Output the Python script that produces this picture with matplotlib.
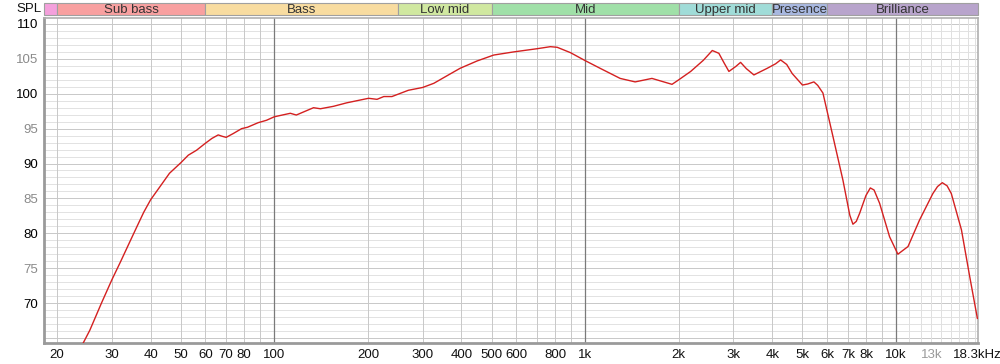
import matplotlib
matplotlib.use("Agg")
import matplotlib.pyplot as plt
from matplotlib.patches import Rectangle
import numpy as np

plt.rcParams['font.family'] = ['Liberation Sans', 'DejaVu Sans']

# ---- data ----
freq = [24.3, 25.5, 27.8, 30, 32, 33.9, 36.1, 38, 40, 42.9, 46, 50, 52.9, 56.2, 60, 63, 66, 68, 70,
        73.8, 78.5, 82, 88.7, 94.4, 100, 112.6, 117.7, 133.7, 140.7, 155, 171, 201,
        214, 225, 239, 270, 300, 326, 360, 396, 449, 508, 589, 701, 773, 813, 896, 1000,
        1117, 1296, 1448, 1640, 1903, 2000, 2185, 2400, 2564, 2692, 2800, 2900, 3050, 3162, 3300, 3490, 3852,
        4100, 4253, 4450, 4634, 5000, 5200, 5444, 5600, 5820, 6270, 6750, 7100, 7267, 7450, 7636, 8000, 8267, 8500, 8855, 9535, 10140,
        10930, 11905, 13140, 13600, 14090, 14600, 15060, 16235, 17260, 18270]
spl = [64.3, 66.1, 70.0, 73.3, 75.9, 78.3, 80.9, 83.0, 84.8, 86.7, 88.6, 90.1, 91.2, 91.9, 92.9, 93.6, 94.1, 93.9, 93.75,
       94.3, 95.0, 95.2, 95.85, 96.2, 96.7, 97.2, 96.95, 98.0, 97.85, 98.2, 98.7, 99.35,
       99.2, 99.6, 99.6, 100.5, 100.9, 101.5, 102.6, 103.65, 104.7, 105.55, 106.0, 106.46, 106.75, 106.66, 105.9, 104.75,
       103.65, 102.2, 101.7, 102.2, 101.35, 102.0, 103.2, 104.8, 106.2, 105.8, 104.4, 103.2, 103.9, 104.5, 103.6, 102.7, 103.65,
       104.3, 104.85, 104.2, 102.9, 101.25, 101.4, 101.7, 101.2, 100.1, 93.85, 87.6, 82.6, 81.3, 81.7, 82.85, 85.4, 86.5, 86.2, 84.3, 79.5, 77.0,
       78.1, 81.9, 85.7, 86.7, 87.25, 86.8, 85.7, 80.5, 73.8, 67.8]

band_names = ["", "Sub bass", "Bass", "Low mid", "Mid", "Upper mid", "Presence", "Brilliance"]
band_edges = [18.16, 20, 60, 250, 500, 2000, 4000, 6000, 18300]
band_colors = ["#f4a0dc", "#f8a0a0", "#f8dca0", "#d0e8a0", "#a0e0a8", "#a0dcd8", "#a8b8e0", "#b8a4cc"]

xtick_vals = [20, 30, 40, 50, 60, 70, 80, 100, 200, 300, 400, 500, 600, 800,
              1000, 2000, 3000, 4000, 5000, 6000, 7000, 8000, 10000, 13000, 18300]
xtick_labels = ["20", "30", "40", "50", "60", "70", "80", "100", "200", "300", "400", "500", "600", "800",
                "1k", "2k", "3k", "4k", "5k", "6k", "7k", "8k", "10k", "13k", "18.3kHz"]
ytick_vals = [70, 75, 80, 85, 90, 95, 100, 105, 110]

XMIN, XMAX = 18.16, 18300
YMIN, YMAX = 64.27, 110.86

fig = plt.figure(figsize=(10, 3.64), dpi=100)
W, H = 1000, 364
ax = fig.add_axes([44 / W, (H - 343) / H, (977.6 - 44) / W, (343 - 18) / H])
ax.set_xscale('log')
ax.set_xlim(XMIN, XMAX)
ax.set_ylim(YMIN, YMAX)

# grid lines
for d in range(65, 111):
    if d % 5 == 0:
        c = "#c8c8c8"
    else:
        c = "#e2e2e2"
    ax.axhline(d, color=c, lw=0.7, zorder=1)

vlines = []
for dec in [10, 100, 1000]:
    for m in range(1, 10):
        vlines.append(dec * m)
vlines += [10000 + 1000 * k for k in range(0, 9)]
for v in vlines:
    if v < XMIN or v > XMAX:
        continue
    if v in (100, 1000, 10000):
        c, lw = "#7a7a7a", 0.9
    elif v > 10000:
        c, lw = "#e0e0e0", 0.7
    else:
        c, lw = "#c8c8c8", 0.7
    ax.axvline(v, color=c, lw=lw, zorder=1)

ax.plot(freq, spl, color="#d42020", lw=1.0, zorder=3)

ax.set_xticks(xtick_vals)
ax.set_xticklabels(xtick_labels)
ax.xaxis.set_minor_locator(matplotlib.ticker.NullLocator())
ax.set_yticks(ytick_vals)
ax.set_yticklabels([str(v) for v in ytick_vals])
ax.tick_params(axis='both', length=0, labelsize=9.5)
ax.tick_params(axis='x', pad=4)
ax.tick_params(axis='y', pad=4)
for lbl, v in zip(ax.get_yticklabels(), ytick_vals):
    lbl.set_color("#000000" if v % 10 == 0 else "#8a8a8a")
for lbl, t in zip(ax.get_xticklabels(), xtick_labels):
    lbl.set_color("#9a9a9a" if t == "13k" else "#111111")

for s in ["top", "right"]:
    ax.spines[s].set_color("#b0b0b0")
    ax.spines[s].set_linewidth(1.2)
for s in ["left", "bottom"]:
    ax.spines[s].set_color("#9a9a9a")
    ax.spines[s].set_linewidth(2.0)

# band strip
bx = fig.add_axes([44 / W, (H - 15) / H, (977.6 - 44) / W, 12 / H])
bx.set_xscale('log')
bx.set_xlim(XMIN, XMAX)
bx.set_ylim(0, 1)
bx.axis('off')
for i, name in enumerate(band_names):
    x0, x1 = band_edges[i], band_edges[i + 1]
    bx.add_patch(Rectangle((x0, 0), x1 - x0, 1, facecolor=band_colors[i],
                           edgecolor="#a0a0a0", lw=0.8, clip_on=False))
    if name:
        bx.text(np.sqrt(x0 * x1), 0.45, name, ha='center', va='center',
                fontsize=9.5, color="#333333")

fig.text(42 / W, (H - 9) / H, "SPL", ha='right', va='center', fontsize=9.5, color="#111111")

fig.savefig("out.png", dpi=100, facecolor="white")
